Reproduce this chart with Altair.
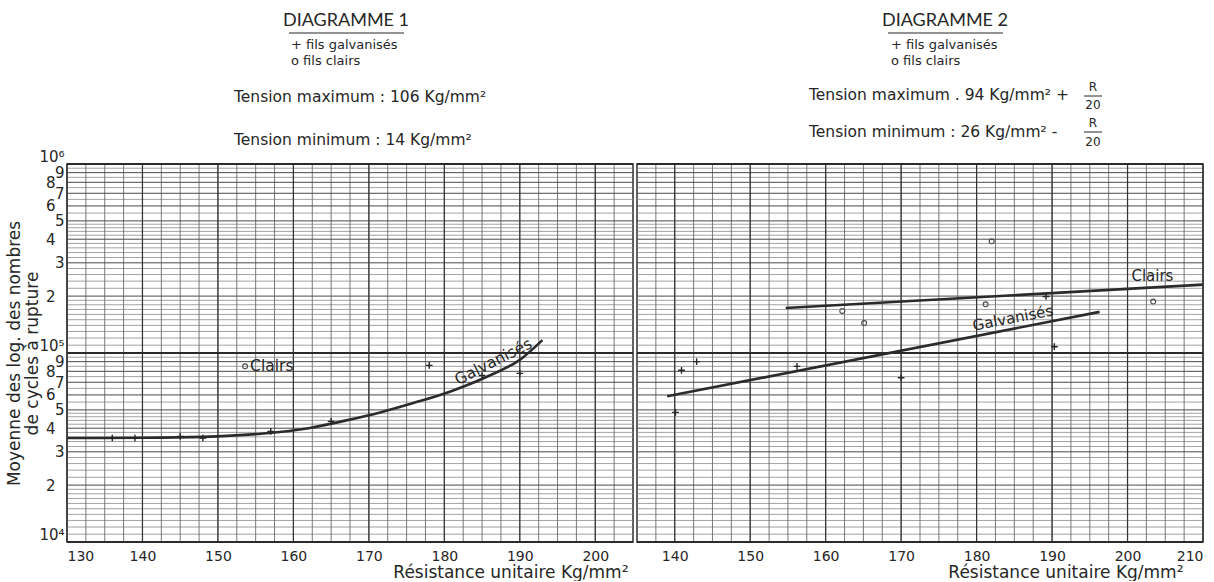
import altair as alt
import pandas as pd
import numpy as np

FONT = "DejaVu Sans"
TFONT = "Lato"
INK = "#262626"

# ---------------- data ----------------
# Diagramme 1
d1_curve_x = [130, 140, 148, 156, 162, 167, 171.5, 176, 181, 186, 190, 193]
d1_curve_y = [3.55e4, 3.56e4, 3.6e4, 3.75e4, 4.0e4, 4.4e4, 4.85e4, 5.45e4, 6.3e4, 7.6e4, 9.2e4, 1.17e5]
d1_galv_x = [136, 139, 145, 148, 157, 165, 178, 185, 190]
d1_galv_y = [3.55e4, 3.55e4, 3.62e4, 3.55e4, 3.85e4, 4.35e4, 8.6e4, 7.6e4, 7.8e4]
d1_clair_x = [153.6]
d1_clair_y = [8.5e4]

# Diagramme 2
d2_galv_line_x = [139, 196.3]
d2_galv_line_y = [5.9e4, 1.65e5]
d2_clair_line_x = [154.7, 210]
d2_clair_line_y = [1.73e5, 2.3e5]
d2_galv_x = [140.1, 140.9, 142.9, 156.2, 170.0, 189.2, 190.3]
d2_galv_y = [4.85e4, 8.1e4, 9.0e4, 8.5e4, 7.4e4, 1.99e5, 1.08e5]
d2_clair_x = [162.2, 165.1, 181.2, 182.0, 203.4]
d2_clair_y = [1.67e5, 1.44e5, 1.81e5, 3.9e5, 1.87e5]

# axes / grid
x1_ticks = [130, 140, 150, 160, 170, 180, 190, 200]
x2_ticks = [140, 150, 160, 170, 180, 190, 200, 210]
x1_domain = [130, 205]
x2_domain = [135, 210]
decades = [1e4, 1e5]
major_mult = [1, 2, 3, 4, 5, 6, 7, 8, 9]
minor_mult = [1.1, 1.2, 1.3, 1.4, 1.5, 1.6, 1.7, 1.8, 1.9, 2.2, 2.4, 2.6, 2.8,
              3.2, 3.4, 3.6, 3.8, 4.2, 4.4, 4.6, 4.8, 5.5, 6.5, 7.5, 8.5, 9.5]
y_major = [m * d for d in decades for m in major_mult] + [1e6]
y_minor = [m * d for d in decades for m in minor_mult]
y_decades = [1e4, 1e5, 1e6]

# texts
Y_TITLE = ["Moyenne  des log. des nombres", "de cycles à rupture"]
X_TITLE = "Résistance unitaire Kg/mm²"
TITLE1 = "DIAGRAMME 1"
TITLE2 = "DIAGRAMME 2"
LEG_G = "+ fils galvanisés"
LEG_C = "o fils clairs"
T1_MAX = "Tension maximum : 106 Kg/mm²"
T1_MIN = "Tension minimum :  14 Kg/mm²"
T2_MAX = "Tension maximum . 94 Kg/mm² +"
T2_MIN = "Tension minimum : 26 Kg/mm² -"
FRAC_NUM = "R"
FRAC_DEN = "20"
LBL_CLAIRS = "Clairs"
LBL_GALV = "Galvanisés"

# ---------------- helpers ----------------
YS = alt.Scale(type="log", domain=[1e4, 1e6], nice=False)
ONE = pd.DataFrame({"a": [0]})

MANT = "round(datum.value / pow(10, floor(log(datum.value) / LN10 + 1e-6)))"
label_expr = ("datum.value == 10000 ? '10⁴' : datum.value == 100000 ? '10⁵' : "
              "datum.value == 1000000 ? '10⁶' : '' + " + MANT)
is_pow = "datum.value == 10000 || datum.value == 100000 || datum.value == 1000000"

Y_AXIS = alt.Axis(
    values=y_major, labelExpr=label_expr, ticks=False, domain=False, grid=False,
    labelFont=FONT, labelFontSize=15, labelColor=INK, labelOverlap=False,
    labelBaseline={"condition": {"test": is_pow, "value": "bottom"}, "value": "middle"},
    labelPadding={"condition": {"test": MANT + " % 2 == 0", "value": 12}, "value": 3},
    title=Y_TITLE, titleFont=FONT, titleFontSize=17, titleFontWeight="normal",
    titleColor=INK, titlePadding=-3, titleLineHeight=18,
)


def text_at(t, x, y, size, align="left", baseline="middle", angle=0, font=FONT):
    return alt.Chart(ONE).mark_text(
        text=t, font=font, fontSize=size, color=INK, align=align,
        baseline=baseline, angle=angle,
    ).encode(x=alt.value(x), y=alt.value(y))


def hline(x1, x2, y, w=1.2):
    return alt.Chart(ONE).mark_rule(color=INK, strokeWidth=w).encode(
        x=alt.value(x1), x2=alt.value(x2), y=alt.value(y))


def panel(domain, ticks, title_x, show_y, extra):
    xs = alt.Scale(domain=domain, nice=False, zero=False)
    x_axis = alt.Axis(
        values=ticks, format="d", ticks=False, domain=False, grid=False,
        labelFont=FONT, labelFontSize=14, labelColor=INK, labelPadding=7,
        title=X_TITLE, titleFont=FONT, titleFontSize=17, titleFontWeight="normal",
        titleColor=INK, titleAnchor="end", titleAlign="right", titleX=title_x,
        titlePadding=1,
    )
    y_axis = Y_AXIS if show_y else None

    def X(f):
        return alt.X(f, scale=xs, axis=x_axis)

    def Y(f):
        return alt.Y(f, scale=YS, axis=y_axis)

    xv_all = list(np.arange(domain[0], domain[1] + 0.01, 2.5))
    xv_major = [v for v in xv_all if v % 10 == 0]

    hminor = alt.Chart(pd.DataFrame({"v": y_minor})).mark_rule(
        color="#8a8a8a", strokeWidth=0.8).encode(y=Y("v:Q"))
    vminor = alt.Chart(pd.DataFrame({"v": xv_all})).mark_rule(
        color="#6a6a6a", strokeWidth=0.9).encode(x=X("v:Q"))
    hmajor = alt.Chart(pd.DataFrame({"v": y_major})).mark_rule(
        color="#4a4a4a", strokeWidth=1.0).encode(y=Y("v:Q"))
    vmajor = alt.Chart(pd.DataFrame({"v": xv_major})).mark_rule(
        color="#333333", strokeWidth=1.2).encode(x=X("v:Q"))
    hdec = alt.Chart(pd.DataFrame({"v": y_decades})).mark_rule(
        color="#2a2a2a", strokeWidth=2.0).encode(y=Y("v:Q"))
    layers = [hminor, vminor, hmajor, vmajor, hdec]
    for item in extra:
        layers.append(item(X, Y))
    return alt.layer(*layers).properties(width=566, height=378)


def line_layer(xv, yv, interp="monotone"):
    def f(X, Y):
        return alt.Chart(pd.DataFrame({"x": xv, "y": yv})).mark_line(
            color="#2b2b2b", strokeWidth=2.6, interpolate=interp).encode(
            x=X("x:Q"), y=Y("y:Q"))
    return f


def plus_layer(xv, yv):
    def f(X, Y):
        return alt.Chart(pd.DataFrame({"x": xv, "y": yv})).mark_point(
            shape="M-1,0L1,0M0,-1L0,1", size=45, strokeWidth=1.4, color=INK,
            filled=False, opacity=1).encode(x=X("x:Q"), y=Y("y:Q"))
    return f


def circ_layer(xv, yv):
    def f(X, Y):
        return alt.Chart(pd.DataFrame({"x": xv, "y": yv})).mark_point(
            shape="circle", size=24, strokeWidth=1.1, color="#4a4a4a",
            filled=False, opacity=1).encode(x=X("x:Q"), y=Y("y:Q"))
    return f


def data_text(t, xv, yv, size, angle=0, dx=0, dy=0, align="center"):
    def f(X, Y):
        return alt.Chart(pd.DataFrame({"x": [xv], "y": [yv]})).mark_text(
            text=t, font=FONT, fontSize=size, color=INK, angle=angle, dx=dx, dy=dy,
            align=align, baseline="middle").encode(x=X("x:Q"), y=Y("y:Q"))
    return f


def static(chart):
    return lambda X, Y: chart


left = panel(
    x1_domain, x1_ticks, 561, True,
    [
        line_layer(d1_curve_x, d1_curve_y),
        plus_layer(d1_galv_x, d1_galv_y),
        circ_layer(d1_clair_x, d1_clair_y),
        data_text(LBL_CLAIRS, d1_clair_x[0], d1_clair_y[0], 15.5, dx=5, align="left"),
        data_text(LBL_GALV, 186.5, 9.0e4, 15.5, angle=333),
        static(text_at(TITLE1, 279, -143, 18, align="center", font=TFONT)),
        static(hline(222, 337, -131)),
        static(text_at(LEG_G, 224, -119, 13)),
        static(text_at(LEG_C, 224, -103, 13)),
        static(text_at(T1_MAX, 167, -67, 15.5)),
        static(text_at(T1_MIN, 167, -24, 15.5)),
    ],
)

right = panel(
    x2_domain, x2_ticks, 546, False,
    [
        line_layer(d2_galv_line_x, d2_galv_line_y, "linear"),
        line_layer(d2_clair_line_x, d2_clair_line_y, "linear"),
        plus_layer(d2_galv_x, d2_galv_y),
        circ_layer(d2_clair_x, d2_clair_y),
        data_text(LBL_CLAIRS, 203.3, 2.55e5, 15),
        data_text(LBL_GALV, 184.8, 1.53e5, 15, angle=349),
        static(text_at(TITLE2, 308, -143, 18, align="center", font=TFONT)),
        static(hline(251, 366, -131)),
        static(text_at(LEG_G, 254, -119, 13)),
        static(text_at(LEG_C, 254, -103, 13)),
        static(text_at(T2_MAX, 172, -69, 15.5)),
        static(text_at(FRAC_NUM, 456, -77, 12, align="center")),
        static(hline(447, 465, -68, 1.0)),
        static(text_at(FRAC_DEN, 456, -59, 12, align="center")),
        static(text_at(T2_MIN, 172, -32, 15.5)),
        static(text_at(FRAC_NUM, 456, -41, 12, align="center")),
        static(hline(447, 465, -32, 1.0)),
        static(text_at(FRAC_DEN, 456, -22, 12, align="center")),
    ],
)

chart = alt.hconcat(left, right, spacing=0).properties(
    padding={"left": 5, "top": 11, "right": 5, "bottom": 0},
    background="#ffffff",
).configure_view(stroke=INK, strokeWidth=1.5)

chart.save("out.html", embed_options={"renderer": "svg", "actions": False})
